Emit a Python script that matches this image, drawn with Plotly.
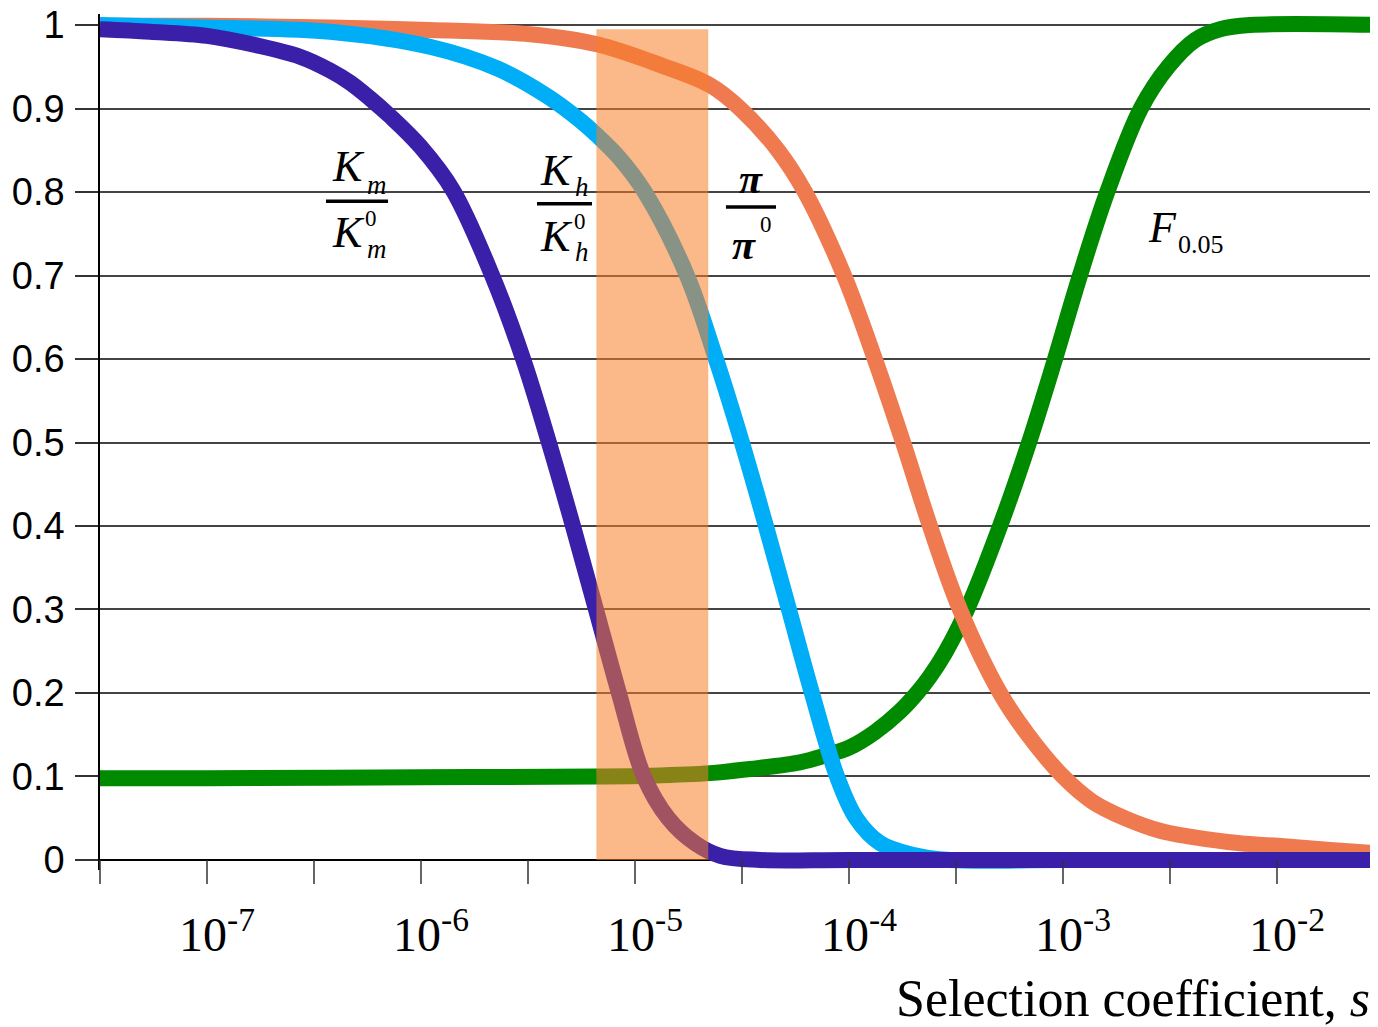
import math
import plotly.graph_objects as go

# ---------------- data ----------------
km_s = [3.16e-8, 5.42e-8, 1.0e-7, 1.68e-7, 2.72e-7, 3.76e-7, 4.66e-7, 5.78e-7, 7.16e-7, 9.89e-7,
        1.41e-6, 2.15e-6, 3.00e-6, 3.96e-6, 5.13e-6, 6.57e-6, 8.41e-6, 1.10e-5, 1.43e-5, 1.91e-5,
        2.50e-5, 3.84e-5, 1e-4, 1e-3, 1e-2, 2.96e-2]
km_y = [0.995, 0.992, 0.987, 0.976, 0.962, 0.9455, 0.931, 0.912, 0.891, 0.855,
        0.802, 0.7, 0.6, 0.5, 0.4, 0.3, 0.2, 0.1, 0.05, 0.02,
        0.005, 0.0, 0.0, 0.0, 0.0, 0.0]

kh_s = [3.16e-8, 1.0e-7, 3.76e-7, 1.10e-6, 2.27e-6, 3.88e-6, 5.53e-6, 6.64e-6, 8.51e-6, 1.11e-5,
        1.75e-5, 2.39e-5, 3.16e-5, 4.09e-5, 5.24e-5, 6.71e-5, 8.79e-5, 1.08e-4, 1.40e-4, 1.93e-4,
        2.97e-4, 1e-3, 1e-2, 2.96e-2]
kh_y = [1.0, 0.997, 0.992, 0.974, 0.948, 0.915, 0.886, 0.868, 0.84, 0.8,
        0.7, 0.6, 0.5, 0.4, 0.3, 0.2, 0.1, 0.05, 0.02, 0.007,
        0.0, 0.0, 0.0, 0.0]

pi_s = [3.16e-8, 1.0e-7, 3.76e-7, 1.10e-6, 3.23e-6, 6.64e-6, 1.35e-5, 2.24e-5, 3.10e-5, 4.66e-5,
        6.23e-5, 9.48e-5, 1.32e-4, 1.79e-4, 2.39e-4, 3.30e-4, 5.08e-4, 6.86e-4, 1.0e-3, 1.37e-3,
        1.95e-3, 2.84e-3, 3.92e-3, 6.71e-3, 1.01e-2, 1.77e-2, 2.96e-2]
pi_y = [0.999, 0.999, 0.997, 0.994, 0.989, 0.977, 0.951, 0.928, 0.9, 0.85,
        0.8, 0.7, 0.6, 0.5, 0.4, 0.3, 0.2, 0.15, 0.1, 0.07,
        0.05, 0.035, 0.028, 0.02, 0.017, 0.012, 0.008]

f_s = [3.16e-8, 1.0e-7, 1.0e-6, 6.64e-6, 1.18e-5, 2.24e-5, 3.44e-5, 5.90e-5, 7.73e-5, 1.01e-4,
       1.32e-4, 1.73e-4, 2.08e-4, 2.39e-4, 2.81e-4, 3.56e-4, 5.08e-4, 6.94e-4, 9.18e-4, 1.20e-3,
       1.61e-3, 2.31e-3, 3.10e-3, 4.14e-3, 5.42e-3, 7.48e-3, 2.96e-2]
f_y = [0.098, 0.098, 0.099, 0.100, 0.101, 0.104, 0.109, 0.117, 0.125, 0.135,
       0.153, 0.178, 0.2, 0.22, 0.248, 0.3, 0.4, 0.5, 0.6, 0.7,
       0.8, 0.9, 0.95, 0.982, 0.995, 1.0, 1.0]

band_s = [6.6e-6, 2.2e-5]          # shaded interval of s
band_top = 0.995

decades = [-7, -6, -5, -4, -3, -2]
x_tick_text = ["10<sup>%d</sup>" % d for d in decades]
y_ticks = [0, 0.1, 0.2, 0.3, 0.4, 0.5, 0.6, 0.7, 0.8, 0.9, 1]
y_tick_text = ["0", "0.1", "0.2", "0.3", "0.4", "0.5", "0.6", "0.7", "0.8", "0.9", "1"]

# ---------------- layout constants ----------------
W, H = 1370, 1019
ML, MR, MT, MB = 92, 0, 6, 157
X_RANGE = [-7.5, -1.528]
Y_RANGE = [-0.012, 1.0132]
LW = 16


def px(logx):
    """log10(s) -> paper x"""
    return (logx - X_RANGE[0]) / (X_RANGE[1] - X_RANGE[0])


fig = go.Figure()
for xs, ys, col in [(f_s, f_y, "#008A00"), (pi_s, pi_y, "#F07A50"),
                    (kh_s, kh_y, "#00AEF8"), (km_s, km_y, "#3A1FA8")]:
    fig.add_trace(go.Scatter(x=xs, y=ys, mode="lines",
                             line=dict(color=col, width=LW, shape="spline", smoothing=1.0),
                             showlegend=False, hoverinfo="skip"))

half = [X_RANGE[0] + 0.5 * i for i in range(12)]
tickvals = [10 ** d for d in decades]

fig.update_layout(
    width=W, height=H, margin=dict(l=ML, r=MR, t=MT, b=MB, autoexpand=False),
    plot_bgcolor="white", paper_bgcolor="white",
    xaxis=dict(type="log", range=X_RANGE, showgrid=False, zeroline=False, showline=False,
               automargin=False,
               tickmode="array", tickvals=tickvals, ticktext=x_tick_text, ticks="",
               tickfont=dict(family="Liberation Serif, Times New Roman, serif", size=48, color="black"),
               ticklabelstandoff=32, ticklabelshift=10),
    yaxis=dict(range=Y_RANGE, showgrid=True, gridcolor="#444444", gridwidth=1.5,
               automargin=False,
               zeroline=True, zerolinecolor="black", zerolinewidth=1.5,
               showline=True, linecolor="black", linewidth=1.5,
               tickmode="array", tickvals=y_ticks, ticktext=y_tick_text,
               ticks="outside", ticklen=23, tickcolor="#333333", tickwidth=1.5,
               tickfont=dict(family="Liberation Sans, Arial", size=38, color="black"),
               ticklabelstandoff=3, ticklabeloverflow="allow"),
)

# x tick marks hanging from y = 0
plot_h = H - MT - MB
y0_paper = (0 - Y_RANGE[0]) / (Y_RANGE[1] - Y_RANGE[0])
y_tick_end = -14 / plot_h
for hv in half:
    fig.add_shape(type="line", xref="paper", yref="paper", x0=px(hv), x1=px(hv),
                  y0=y0_paper, y1=y_tick_end,
                  line=dict(color="#333333", width=1.5), layer="above")

# shaded band
fig.add_shape(type="rect", xref="paper", yref="y",
              x0=px(math.log10(band_s[0])), x1=px(math.log10(band_s[1])), y0=0, y1=band_top,
              fillcolor="rgba(248,125,40,0.55)", line=dict(width=0), layer="above")

SERIF = "Liberation Serif, Times New Roman, serif"


def txt(x, y, t, size):
    fig.add_annotation(x=px(x), y=y, xref="paper", yref="y", text=t, showarrow=False,
                       font=dict(family=SERIF, size=size, color="black"),
                       xanchor="center", yanchor="middle")


def bar(xa, xb, y):
    fig.add_shape(type="line", xref="paper", yref="y", x0=px(xa), x1=px(xb), y0=y, y1=y,
                  line=dict(color="black", width=3.5), layer="above")


# K_m / K_m^0
txt(-6.341, 0.830, "<i>K</i>", 44)
txt(-6.205, 0.809, "<i>m</i>", 27)
bar(-6.444, -6.154, 0.789)
txt(-6.341, 0.751, "<i>K</i>", 44)
txt(-6.234, 0.768, "0", 23)
txt(-6.205, 0.732, "<i>m</i>", 27)

# K_h / K_h^0
txt(-5.369, 0.826, "<i>K</i>", 44)
txt(-5.248, 0.806, "<i>h</i>", 27)
bar(-5.458, -5.201, 0.786)
txt(-5.369, 0.747, "<i>K</i>", 44)
txt(-5.257, 0.765, "0", 23)
txt(-5.248, 0.728, "<i>h</i>", 27)

# pi / pi^0
txt(-4.458, 0.816, "<i><b>π</b></i>", 42)
bar(-4.575, -4.341, 0.782)
txt(-4.491, 0.736, "<i><b>π</b></i>", 42)
txt(-4.388, 0.761, "0", 23)

# F_0.05
txt(-2.537, 0.757, "<i>F</i>", 44)
txt(-2.355, 0.737, "0.05", 26)

# axis title
fig.add_annotation(x=1, y=0, xref="paper", yref="paper", xanchor="right", yanchor="top",
                   xshift=-6, yshift=-98, showarrow=False,
                   text="Selection coefficient, <i>s</i>",
                   font=dict(family=SERIF, size=52, color="black"))

fig.write_html("out.html")
